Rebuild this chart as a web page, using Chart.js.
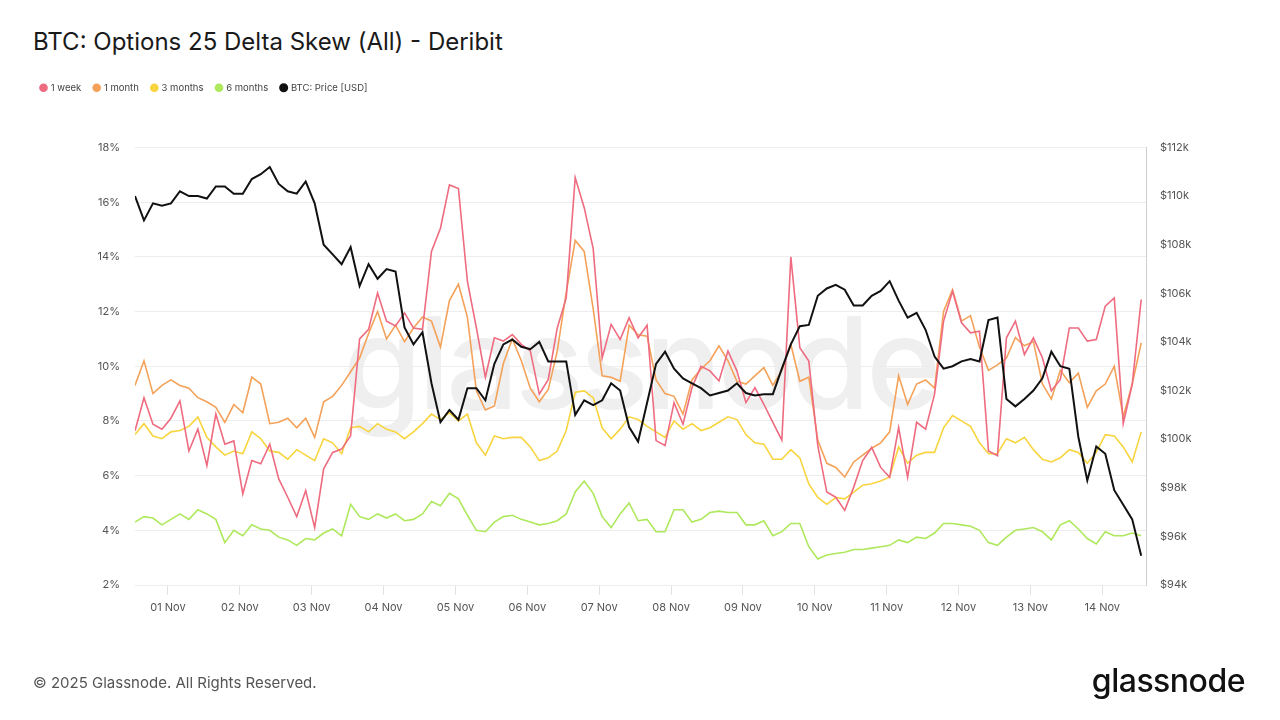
<!DOCTYPE html>
<html>
<head>
<meta charset="utf-8">
<script src="https://cdn.jsdelivr.net/npm/chart.js@4.4.1/dist/chart.umd.min.js"></script>
<style>
  html, body { margin: 0; padding: 0; background: #fff; }
  body { width: 1280px; height: 720px; position: relative; overflow: hidden; font-family: Inter, "Noto Sans", sans-serif; }
  #title { position: absolute; left: 33px; top: 27px; font-size: 24px; color: #1a1a1a; }
  #wm { position: absolute; left: 0; width: 1280px; top: 299px; text-align: center; font-size: 128px; font-weight: 500; color: #efefef; letter-spacing: -4px; line-height: 1; }
  #copy { position: absolute; left: 33px; top: 673px; font-size: 15px; color: #555; }
  #logo { position: absolute; right: 35px; top: 661px; font-size: 32px; font-weight: 500; color: #111; letter-spacing: -0.5px; }
  #wrap { position: absolute; left: 0; top: 0; width: 1280px; height: 720px; }
</style>
</head>
<body>
<div id="wm">glassnode</div>
<div id="title">BTC: Options 25 Delta Skew (All) - Deribit</div>
<div id="wrap"><canvas id="chart" width="1280" height="720"></canvas></div>
<div id="copy">© 2025 Glassnode. All Rights Reserved.</div>
<div id="logo">glassnode</div>
<script>
// hours relative to 01 Nov 00:00, one sample every 3 hours
const START_HOUR = -11;
const STEP_HOURS = 3;

const dayLabels = ['01 Nov','02 Nov','03 Nov','04 Nov','05 Nov','06 Nov','07 Nov','08 Nov','09 Nov','10 Nov','11 Nov','12 Nov','13 Nov','14 Nov'];

const week = [
  7.64, 8.85, 7.88, 7.7, 8.1, 8.73, 6.9, 7.7, 6.37, 8.25, 7.15, 7.27, 5.33, 6.55, 6.43, 7.15, 5.88, 5.21, 4.5, 5.45,
  4.1, 6.25, 6.85, 6.97, 7.46, 11.0, 11.35, 12.68, 11.65, 11.47, 11.95, 11.4, 11.35, 14.2, 15.05, 16.63, 16.5, 13.1, 11.4,
  9.6, 11.04, 10.92, 11.16, 10.8, 10.56, 8.98, 9.52, 11.4, 12.5, 16.9, 15.8, 14.3, 10.3, 11.53, 10.98, 11.77, 11.04, 11.5,
  7.28, 7.1, 8.67, 7.88, 9.22, 10.0, 9.83, 9.46, 10.56, 9.83, 8.67, 9.22, 8.61, 7.95, 7.3, 14.0, 10.68, 10.19, 7.1,
  5.4, 5.21, 4.73, 5.58, 6.55, 7.03, 6.3, 5.94, 7.76, 5.94, 7.95, 7.7, 8.98, 11.65, 12.74, 11.59, 11.22, 11.28, 6.9,
  6.73, 11.04, 11.65, 10.43, 11.04, 10.31, 9.1, 9.52, 11.4, 11.4, 10.92, 10.98, 12.2, 12.5, 7.9, 9.34, 12.44
];
const month = [
  9.3, 10.2, 9.0, 9.3, 9.5, 9.3, 9.2, 8.85, 8.7, 8.5, 7.95, 8.6, 8.3, 9.6, 9.35, 7.9, 7.95, 8.1, 7.75, 8.1,
  7.4, 8.7, 8.9, 9.3, 9.8, 10.3, 11.2, 12.0, 11.0, 11.5, 10.9, 11.4, 11.8, 11.65, 10.7, 12.4, 13.0, 11.8, 9.1,
  8.4, 8.55, 10.1, 11.0, 10.2, 9.2, 8.7, 9.15, 10.55, 12.7, 14.6, 14.2, 12.1, 9.65, 9.6, 9.45, 11.5, 11.15, 11.1,
  9.5, 9.0, 8.9, 8.25, 9.5, 9.9, 10.2, 10.75, 10.2, 9.45, 9.35, 9.65, 9.95, 9.3, 9.85, 10.8, 9.45, 9.6, 7.3,
  6.45, 6.3, 5.95, 6.5, 6.75, 7.0, 7.2, 7.6, 9.65, 8.6, 9.35, 9.5, 9.2, 12.0, 12.8, 11.65, 11.85, 10.7, 9.85,
  10.05, 10.3, 11.05, 10.75, 10.9, 9.35, 8.8, 9.85, 9.4, 9.75, 8.5, 9.1, 9.35, 10.0, 8.15, 9.35, 10.85
];
const threeMonths = [
  7.5, 7.9, 7.45, 7.35, 7.6, 7.65, 7.8, 8.15, 7.4, 7.05, 6.75, 6.9, 6.8, 7.6, 7.35, 6.9, 6.85, 6.6, 6.95, 6.75,
  6.55, 7.35, 7.2, 6.8, 7.75, 7.8, 7.6, 7.9, 7.7, 7.6, 7.35, 7.6, 7.9, 8.25, 8.05, 8.3, 8.0, 8.25, 7.2,
  6.75, 7.45, 7.35, 7.4, 7.4, 7.05, 6.55, 6.65, 6.9, 7.65, 9.05, 9.1, 8.85, 7.75, 7.35, 7.7, 8.15, 8.05, 7.8,
  7.6, 7.4, 8.0, 7.7, 7.9, 7.65, 7.75, 7.95, 8.15, 8.05, 7.5, 7.2, 7.15, 6.6, 6.6, 6.95, 6.65, 5.7, 5.2,
  4.95, 5.2, 5.15, 5.4, 5.65, 5.7, 5.8, 5.95, 7.05, 6.45, 6.75, 6.85, 6.85, 7.75, 8.2, 8.0, 7.8, 7.2, 6.8,
  6.8, 7.35, 7.2, 7.4, 6.95, 6.6, 6.5, 6.65, 6.95, 6.85, 6.45, 6.85, 7.5, 7.45, 7.05, 6.5, 7.6
];
const sixMonths = [
  4.3, 4.5, 4.45, 4.2, 4.4, 4.6, 4.4, 4.75, 4.6, 4.4, 3.55, 4.0, 3.8, 4.2, 4.05, 4.0, 3.75, 3.65, 3.45, 3.7,
  3.65, 3.9, 4.05, 3.8, 4.95, 4.5, 4.4, 4.6, 4.45, 4.6, 4.35, 4.4, 4.6, 5.05, 4.9, 5.35, 5.15, 4.55, 4.0,
  3.95, 4.3, 4.5, 4.55, 4.4, 4.3, 4.2, 4.25, 4.35, 4.6, 5.4, 5.8, 5.35, 4.5, 4.1, 4.6, 5.0, 4.35, 4.4,
  3.95, 3.95, 4.75, 4.75, 4.3, 4.4, 4.65, 4.7, 4.65, 4.65, 4.2, 4.2, 4.35, 3.8, 3.95, 4.25, 4.25, 3.4, 2.95,
  3.1, 3.15, 3.2, 3.3, 3.3, 3.35, 3.4, 3.45, 3.65, 3.55, 3.75, 3.7, 3.9, 4.25, 4.25, 4.2, 4.15, 4.0, 3.55,
  3.45, 3.75, 4.0, 4.05, 4.1, 3.95, 3.65, 4.2, 4.35, 4.05, 3.7, 3.5, 3.95, 3.8, 3.8, 3.9, 3.8
];
// BTC price in $k
const price = [
  110.0, 109.0, 109.7, 109.6, 109.7, 110.2, 110.0, 110.0, 109.9, 110.4, 110.4, 110.1, 110.1, 110.7, 110.9, 111.2, 110.5, 110.2, 110.1, 110.6,
  109.7, 108.0, 107.6, 107.2, 107.9, 106.3, 107.2, 106.6, 107.0, 106.9, 104.6, 103.9, 104.4, 102.3, 100.7, 101.2, 100.8, 102.1, 102.1,
  101.6, 103.1, 103.9, 104.1, 103.8, 103.7, 104.0, 103.2, 103.2, 103.2, 101.0, 101.6, 101.4, 101.6, 102.3, 102.0, 100.5, 99.9, 101.5,
  103.1, 103.6, 102.9, 102.5, 102.3, 102.1, 101.8, 101.9, 102.0, 102.3, 101.9, 101.8, 101.85, 101.85, 102.9, 103.9, 104.65, 104.7, 105.9,
  106.2, 106.35, 106.15, 105.5, 105.5, 105.9, 106.1, 106.5, 105.7, 105.0, 105.2, 104.5, 103.4, 102.9, 103.0, 103.2, 103.3, 103.2, 104.9,
  105.0, 101.65, 101.35, 101.65, 102.0, 102.5, 103.6, 103.0, 102.9, 100.1, 98.3, 99.7, 99.4, 97.9, 97.3, 96.7, 95.2
];

const toPoints = arr => arr.map((v, i) => ({x: START_HOUR + i * STEP_HOURS, y: v}));

const legendSpacer = {
  id: 'legendSpacer',
  beforeInit(chart) {
    const fit = chart.legend.fit;
    chart.legend.fit = function () {
      fit.bind(chart.legend)();
      this.height += 45;
    };
  }
};

const line = (label, data, color, axis, order, width) => ({
  label, data: toPoints(data), yAxisID: axis, order,
  borderColor: color, backgroundColor: color, borderWidth: width || 1.6,
  pointRadius: 0, tension: 0, fill: false
});

new Chart(document.getElementById('chart'), {
  type: 'line',
  data: {
    datasets: [
      line('1 week', week, '#ee6b80', 'skew', 1),
      line('1 month', month, '#f4a259', 'skew', 2),
      line('3 months', threeMonths, '#f8d43f', 'skew', 3),
      line('6 months', sixMonths, '#aee85c', 'skew', 4),
      line('BTC: Price [USD]', price, '#111111', 'price', 0, 2)
    ]
  },
  plugins: [legendSpacer],
  options: {
    responsive: false,
    animation: false,
    layout: {padding: {top: 70, left: 28, right: 0, bottom: 95}},
    plugins: {
      tooltip: {enabled: false},
      legend: {
        position: 'top', align: 'start',
        labels: {
          usePointStyle: true, pointStyle: 'circle', boxWidth: 5, boxHeight: 5,
          padding: 13, color: '#444', font: {size: 9.5, family: 'Inter'},
          sort: (a, b) => a.datasetIndex - b.datasetIndex
        }
      }
    },
    scales: {
      x: {
        type: 'linear', min: -11, max: 326.6,
        afterBuildTicks: s => { s.ticks = dayLabels.map((d, i) => ({value: i * 24})); },
        afterFit: s => { s.height = 40; },
        grid: {drawOnChartArea: false, drawTicks: true, tickLength: 10, color: '#e2e2e2'},
        border: {display: false},
        ticks: {
          autoSkip: false, maxRotation: 0, padding: 6, color: '#555', font: {size: 11, family: 'Inter'},
          callback: v => dayLabels[Math.round(v / 24)]
        }
      },
      skew: {
        position: 'left', min: 2, max: 18,
        afterFit: s => { s.width = 107; },
        grid: {color: '#ededed', drawTicks: false},
        border: {display: false},
        ticks: {stepSize: 2, padding: 15, color: '#555', font: {size: 11, family: 'Inter'}, callback: v => v + '%'}
      },
      price: {
        position: 'right', min: 94, max: 112,
        afterFit: s => { s.width = 134; },
        grid: {display: false, drawTicks: false},
        border: {display: true, color: '#cfcfcf'},
        ticks: {stepSize: 2, padding: 14, color: '#555', font: {size: 11, family: 'Inter'}, callback: v => '$' + v + 'k'}
      }
    }
  }
});
</script>
</body>
</html>
